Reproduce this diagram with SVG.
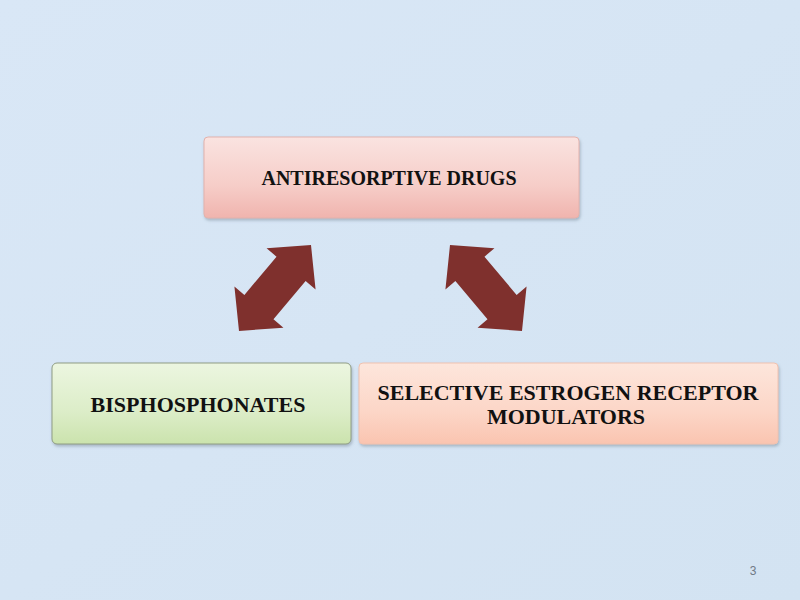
<svg xmlns="http://www.w3.org/2000/svg" width="800" height="600" viewBox="0 0 800 600">
  <defs>
    <linearGradient id="bg" x1="0" y1="0" x2="1" y2="1">
      <stop offset="0" stop-color="#d9e7f6"/>
      <stop offset="1" stop-color="#d3e3f2"/>
    </linearGradient>
    <linearGradient id="gPink" x1="0" y1="0" x2="0" y2="1">
      <stop offset="0" stop-color="#fae3e0"/>
      <stop offset="0.6" stop-color="#f6cdc8"/>
      <stop offset="1" stop-color="#f0b4ae"/>
    </linearGradient>
    <linearGradient id="gGreen" x1="0" y1="0" x2="0" y2="1">
      <stop offset="0" stop-color="#ecf6e0"/>
      <stop offset="0.6" stop-color="#dcedc8"/>
      <stop offset="1" stop-color="#cbe3ad"/>
    </linearGradient>
    <linearGradient id="gPeach" x1="0" y1="0" x2="0" y2="1">
      <stop offset="0" stop-color="#fde6dc"/>
      <stop offset="0.6" stop-color="#fcd6c7"/>
      <stop offset="1" stop-color="#fac4b0"/>
    </linearGradient>
    <filter id="shadow" x="-10%" y="-20%" width="120%" height="150%">
      <feDropShadow dx="1" dy="2" stdDeviation="1.5" flood-color="#6b7a8a" flood-opacity="0.45"/>
    </filter>
    <polygon id="dblArrow" points="-56,0 -25,-32 -25,-19 25,-19 25,-32 56,0 25,32 25,19 -25,19 -25,32"/>
  </defs>
  <style>
    .lbl { font-family: "Liberation Serif", "Times New Roman", serif; font-weight: bold; fill: #111111; text-anchor: middle; }
    .arrow { fill: #7f302d; }
    .box { filter: url(#shadow); }
  </style>

  <rect x="0" y="0" width="800" height="600" fill="url(#bg)"/>

  <g id="connectors">
    <use href="#dblArrow" class="arrow" transform="translate(275,288) rotate(-50)"/>
    <use href="#dblArrow" class="arrow" transform="translate(486,288) rotate(50)"/>
  </g>

  <g id="node-antiresorptive">
    <rect class="box" x="204" y="137" width="375" height="81" rx="4" fill="url(#gPink)" stroke="#e2b2ad" stroke-width="1"/>
    <text class="lbl" x="389" y="185" font-size="20">ANTIRESORPTIVE DRUGS</text>
  </g>

  <g id="node-bisphosphonates">
    <rect class="box" x="52" y="363" width="299" height="81" rx="5" fill="url(#gGreen)" stroke="#8f9c84" stroke-width="1"/>
    <text class="lbl" x="198" y="412" font-size="22">BISPHOSPHONATES</text>
  </g>

  <g id="node-serm">
    <rect class="box" x="359" y="363" width="419" height="81" rx="4" fill="url(#gPeach)" stroke="#f0c2b0" stroke-width="1"/>
    <text class="lbl" x="568" y="400" font-size="22">SELECTIVE ESTROGEN RECEPTOR</text>
    <text class="lbl" x="566" y="424" font-size="22">MODULATORS</text>
  </g>

  <text x="753" y="575" font-family="Liberation Sans, Arial, sans-serif" font-size="12" fill="#707a86" text-anchor="middle">3</text>
</svg>
